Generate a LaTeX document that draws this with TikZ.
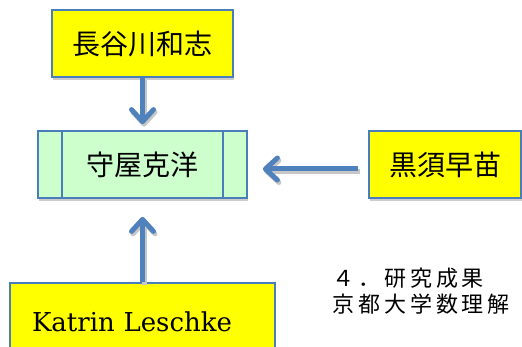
\documentclass[tikz,border=0pt]{standalone}
\usepackage{fontspec}
\newfontfamily\jpfont{Noto Sans CJK JP}
\newfontfamily\jpwide[LetterSpace=18]{Noto Sans CJK JP}
\newfontfamily\latinfont{DejaVu Serif}
\usetikzlibrary{arrows.meta,shadows}
\definecolor{boxblue}{HTML}{4A7EBB}
\definecolor{arrowblue}{HTML}{4F81BD}
\definecolor{boxyellow}{HTML}{FFFF00}
\definecolor{boxgreen}{HTML}{CCFFCC}
\tikzset{
  namebox/.style={draw=boxblue,line width=1.8pt,fill=boxyellow,minimum height=67pt,inner sep=0pt,
    drop shadow={shadow xshift=1pt,shadow yshift=-3.5pt,opacity=1,fill=black!20},
    font=\jpfont\fontsize{28pt}{34pt}\selectfont},
  bluearrow/.style={draw=arrowblue,line width=5pt,-{Straight Barb[length=12pt,width=22pt,round]}}
}
\newcommand\linkarrows{
	\draw[bluearrow,shorten >=6pt] (hase.south) -- (moriya.north);
	\draw[bluearrow,shorten <=10pt,shorten >=15pt] ([yshift=-4.5pt]kurosu.west) -- ([yshift=-4.5pt]moriya.east);
	\draw[bluearrow,shorten >=18pt] (leschke.north) -- (moriya.south);
}
\begin{document}
\begin{tikzpicture}[x=1pt,y=-1pt]
	\useasboundingbox (0,0) rectangle (522,347);
	\clip (0,0) rectangle (522,347);
	% people
	\node[namebox,minimum width=181pt] (hase) at (142.5,43.5) {長谷川和志};
	\node[namebox,minimum width=209pt,fill=boxgreen] (moriya) at (142.5,164.5) {守屋克洋\hspace{16pt}};
	\draw[boxblue,line width=1.8pt] ([xshift=25pt]moriya.north west) -- ([xshift=25pt]moriya.south west);
	\draw[boxblue,line width=1.8pt] ([xshift=-25pt]moriya.north east) -- ([xshift=-25pt]moriya.south east);
	\node[namebox,minimum width=152pt] (kurosu) at (445,164.5) {黒須早苗};
	\node[namebox,minimum width=265pt,minimum height=77pt,text width=221pt,align=left,inner xsep=22pt,
		font=\latinfont\fontsize{26pt}{32pt}\selectfont] (leschke) at (142.5,321.5) {Katrin Leschke};
	% arrows, shadow first
	\begin{scope}[transform canvas={shift={(1.5pt,-2.5pt)}},bluearrow/.append style={draw=black!22}]
		\linkarrows
	\end{scope}
	\linkarrows
	% heading
	\node[anchor=north west,inner sep=0pt,align=left,font=\jpwide\fontsize{22pt}{26pt}\selectfont] (result) at (332,268)
		{４．研究成果\\京都大学数理解};
\end{tikzpicture}
\end{document}
